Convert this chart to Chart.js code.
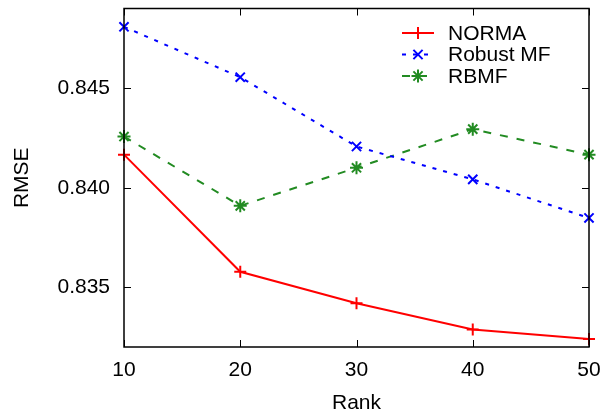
<!DOCTYPE html>
<html><head>
<script src="https://cdn.jsdelivr.net/npm/chart.js@4"></script>
<style>html,body{margin:0;padding:0;background:#fff}</style>
</head><body>
<div style="width:610px;height:416px;position:relative"><canvas id="c"></canvas></div>
<script>
const ranks = [10, 20, 30, 40, 50];
const norma = [0.84166, 0.83578, 0.83420, 0.83288, 0.83240];
const robustMF = [0.84808, 0.84555, 0.84207, 0.84042, 0.83848];
const rbmf = [0.84257, 0.83909, 0.84100, 0.84294, 0.84166];
const xTicks = [10, 20, 30, 40, 50];
const yTicks = [0.835, 0.840, 0.845];
const seriesNames = ['NORMA', 'Robust MF', 'RBMF'];

const FONT = {family: '"Liberation Sans", Arial, sans-serif', size: 21};
const pts = arr => ranks.map((r, i) => ({x: r, y: arr[i]}));

const framePlugin = {
  id: 'frame',
  afterDatasetsDraw(chart) {
    const {ctx, chartArea: a, scales: {x, y}} = chart;
    ctx.save();
    ctx.strokeStyle = '#000';
    ctx.lineWidth = 1.5;
    ctx.strokeRect(a.left, a.top, a.right - a.left, a.bottom - a.top);
    ctx.lineWidth = 1;
    const L = 7;
    ctx.beginPath();
    xTicks.forEach(v => {
      const px = Math.round(x.getPixelForValue(v)) + 0.5;
      ctx.moveTo(px, a.bottom); ctx.lineTo(px, a.bottom - L);
      ctx.moveTo(px, a.top); ctx.lineTo(px, a.top + L);
    });
    yTicks.forEach(v => {
      const py = Math.round(y.getPixelForValue(v)) + 0.5;
      ctx.moveTo(a.left, py); ctx.lineTo(a.left + L, py);
      ctx.moveTo(a.right, py); ctx.lineTo(a.right - L, py);
    });
    ctx.stroke();
    // legend
    chart.data.datasets.forEach((ds, i) => {
      const cy = 33 + 21.5 * i;
      ctx.strokeStyle = ds.borderColor;
      ctx.lineWidth = ds.borderWidth;
      ctx.setLineDash(ds.borderDash || []);
      ctx.beginPath();
      ctx.moveTo(402, cy); ctx.lineTo(434, cy);
      ctx.stroke();
      ctx.setLineDash([]);
      Chart.helpers.drawPoint(ctx, {pointStyle: ds.pointStyle, radius: ds.pointRadius, borderWidth: ds.pointBorderWidth}, 418, cy);
      ctx.fillStyle = '#000';
      ctx.font = FONT.size + 'px ' + FONT.family;
      ctx.textBaseline = 'middle';
      ctx.textAlign = 'left';
      ctx.fillText(ds.label, 448, cy + 1);
    });
    ctx.restore();
  }
};

new Chart(document.getElementById('c'), {
  type: 'line',
  data: {
    datasets: [
      {label: seriesNames[0], data: pts(norma), borderColor: '#ff0000', backgroundColor: '#ff0000',
       borderWidth: 2, pointStyle: 'cross', pointRadius: 6, pointBorderWidth: 2, pointHoverRadius: 6, clip: false},
      {label: seriesNames[1], data: pts(robustMF), borderColor: '#0000ff', backgroundColor: '#0000ff',
       borderWidth: 2, borderDash: [4, 7], pointStyle: 'crossRot', pointRadius: 6.5, pointBorderWidth: 2, pointHoverRadius: 6.5, clip: false},
      {label: seriesNames[2], data: pts(rbmf), borderColor: '#228b22', backgroundColor: '#228b22',
       borderWidth: 2, borderDash: [8, 9], pointStyle: 'star', pointRadius: 6.5, pointBorderWidth: 2, pointHoverRadius: 6.5, clip: false}
    ]
  },
  options: {
    responsive: true, maintainAspectRatio: false, animation: false,
    layout: {padding: {left: 0, right: 21, top: 6, bottom: 0}},
    plugins: {legend: {display: false}, tooltip: {enabled: false}},
    scales: {
      x: {
        type: 'linear', min: 10, max: 50,
        afterBuildTicks: s => { s.ticks = xTicks.map(v => ({value: v})); },
        afterFit: s => { s.height = 69; s.paddingLeft = 0; s.paddingRight = 0; },
        grid: {display: false, drawTicks: false},
        border: {display: false},
        ticks: {color: '#000', font: FONT, padding: 11, maxRotation: 0},
        title: {display: true, text: 'Rank', color: '#000', font: FONT, padding: {top: 6, bottom: 0}}
      },
      y: {
        type: 'linear', min: 0.832, max: 0.849,
        afterBuildTicks: s => { s.ticks = yTicks.map(v => ({value: v})); },
        afterFit: s => { s.width = 124; s.paddingTop = 0; s.paddingBottom = 0; },
        grid: {display: false, drawTicks: false},
        border: {display: false},
        ticks: {color: '#000', font: FONT, padding: 14, callback: v => v.toFixed(3)},
        title: {display: true, text: 'RMSE', color: '#000', font: FONT, padding: {top: 10, bottom: 8}}
      }
    }
  },
  plugins: [framePlugin]
});
</script>
</body></html>
